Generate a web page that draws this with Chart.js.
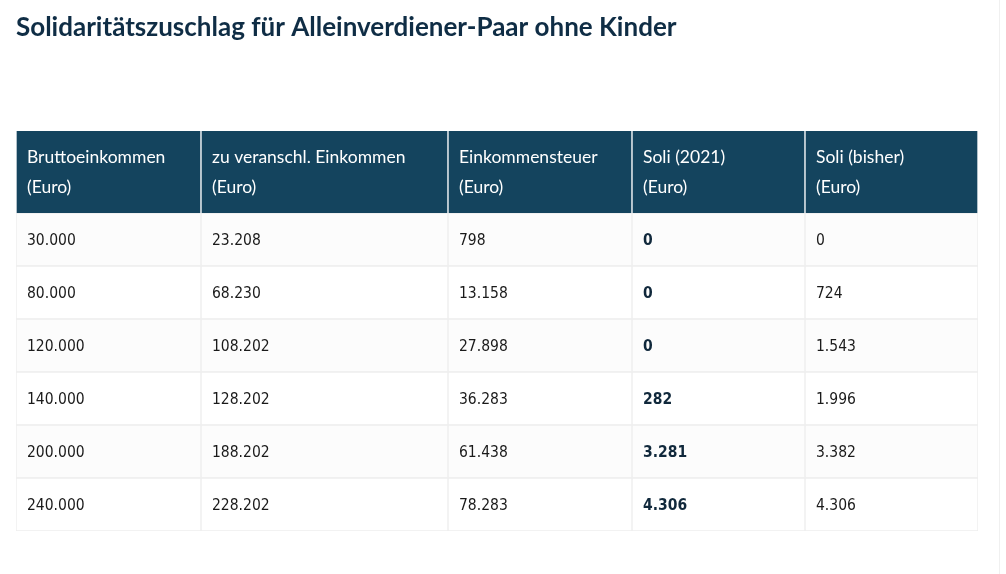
<!DOCTYPE html>
<html lang="de">
<head>
<meta charset="utf-8">
<title>Solidaritätszuschlag für Alleinverdiener-Paar ohne Kinder</title>
<script src="https://cdn.jsdelivr.net/npm/chart.js@4/dist/chart.umd.min.js"></script>
<style>
  html, body { margin: 0; padding: 0; background: #ffffff; overflow: hidden; }
  #wrap { position: relative; width: 1006px; height: 574px; }
  canvas { display: block; }
</style>
</head>
<body>
<div id="wrap"><canvas id="chart" width="1006" height="574"></canvas></div>
<script>
// ---- Data ----
const title = "Solidaritätszuschlag für Alleinverdiener-Paar ohne Kinder";
const columnHeaders = [
  ["Bruttoeinkommen", "(Euro)"],
  ["zu veranschl. Einkommen", "(Euro)"],
  ["Einkommensteuer", "(Euro)"],
  ["Soli (2021)", "(Euro)"],
  ["Soli (bisher)", "(Euro)"]
];
const bruttoeinkommen = [30000, 80000, 120000, 140000, 200000, 240000];
const zuVeranschlEinkommen = [23208, 68230, 108202, 128202, 188202, 228202];
const einkommensteuer = [798, 13158, 27898, 36283, 61438, 78283];
const soli2021 = [0, 0, 0, 282, 3281, 4306];
const soliBisher = [0, 724, 1543, 1996, 3382, 4306];
const columns = [bruttoeinkommen, zuVeranschlEinkommen, einkommensteuer, soli2021, soliBisher];

// ---- Layout (table geometry, in pixel-like scale units) ----
const colWidths = [185, 247, 184, 173, 173];
const headerHeight = 82;
const rowHeight = 53;
const boldColumn = 3;

const colEdges = [0];
colWidths.forEach(w => colEdges.push(colEdges[colEdges.length - 1] + w));
const tableWidth = colEdges[colEdges.length - 1];
const tableHeight = headerHeight + rowHeight * bruttoeinkommen.length;
const rowCenter = i => headerHeight + rowHeight * i + rowHeight / 2;

function fmt(n) {
  return String(n).replace(/\B(?=(\d{3})+(?!\d))/g, ".");
}

const HEADER_BG = "#14445e";
const TITLE_COLOR = "#0f2d45";
const BORDER = "#eeeeee";

const headerDataset = {
  label: "header",
  data: columnHeaders.map((h, c) => ({ y: headerHeight / 2, x: [colEdges[c], colEdges[c + 1]] })),
  backgroundColor: HEADER_BG,
  borderColor: "#ffffff",
  borderWidth: { left: 1, right: 1, top: 0, bottom: 0 },
  borderSkipped: false,
  barThickness: headerHeight,
  grouped: false
};

const bodyDatasets = columns.map((vals, c) => ({
  label: columnHeaders[c][0],
  data: vals.map((v, r) => ({ y: rowCenter(r), x: [colEdges[c], colEdges[c + 1]] })),
  backgroundColor: vals.map((v, r) => (r % 2 === 0 ? "#fcfcfc" : "#ffffff")),
  borderColor: BORDER,
  borderWidth: 1,
  borderSkipped: false,
  barThickness: rowHeight,
  grouped: false
}));

const cellText = {
  id: "cellText",
  beforeDraw(chart) {
    const ctx = chart.ctx;
    ctx.save();
    ctx.strokeStyle = "#f0f0f0";
    ctx.lineWidth = 1;
    ctx.beginPath();
    ctx.moveTo(999.5, 0);
    ctx.lineTo(999.5, chart.height);
    ctx.stroke();
    ctx.restore();
  },
  afterDatasetsDraw(chart) {
    const ctx = chart.ctx;
    const xs = chart.scales.x, ys = chart.scales.y;
    ctx.save();
    ctx.textBaseline = "middle";
    ctx.textAlign = "left";
    // header
    ctx.fillStyle = "#ffffff";
    ctx.font = "17.5px 'Lato', 'Open Sans', sans-serif";
    columnHeaders.forEach((lines, c) => {
      const x = xs.getPixelForValue(colEdges[c]) + 11;
      const yc = ys.getPixelForValue(headerHeight / 2);
      ctx.fillText(lines[0], x, yc - 14.5);
      ctx.fillText(lines[1], x, yc + 15.5);
    });
    // body
    columns.forEach((vals, c) => {
      const x = xs.getPixelForValue(colEdges[c]) + 11;
      vals.forEach((v, r) => {
        const y = ys.getPixelForValue(rowCenter(r)) + 1;
        if (c === boldColumn) {
          ctx.font = "bold 15.5px 'DejaVu Sans Condensed', 'DejaVu Sans', sans-serif";
          ctx.fillStyle = "#10283b";
        } else {
          ctx.font = "15.5px 'DejaVu Sans Condensed', 'DejaVu Sans', sans-serif";
          ctx.fillStyle = "#1a1a1a";
        }
        ctx.fillText(fmt(v), x, y);
      });
    });
    ctx.restore();
  }
};

new Chart(document.getElementById("chart"), {
  type: "bar",
  data: { datasets: [headerDataset, ...bodyDatasets] },
  options: {
    responsive: false,
    animation: false,
    indexAxis: "y",
    layout: { padding: { left: 16, right: 28, top: 0, bottom: 43 } },
    scales: {
      x: { type: "linear", min: 0, max: tableWidth, display: false, offset: false },
      y: { type: "linear", min: 0, max: tableHeight, reverse: true, display: false, offset: false }
    },
    plugins: {
      legend: { display: false },
      tooltip: { enabled: false },
      title: {
        display: true,
        text: title,
        align: "start",
        color: TITLE_COLOR,
        font: { family: "'Lato', 'Open Sans', sans-serif", size: 26, weight: "bold", lineHeight: 1.2 },
        padding: { top: 12, bottom: 87.8 }
      }
    }
  },
  plugins: [cellText]
});
</script>
</body>
</html>
